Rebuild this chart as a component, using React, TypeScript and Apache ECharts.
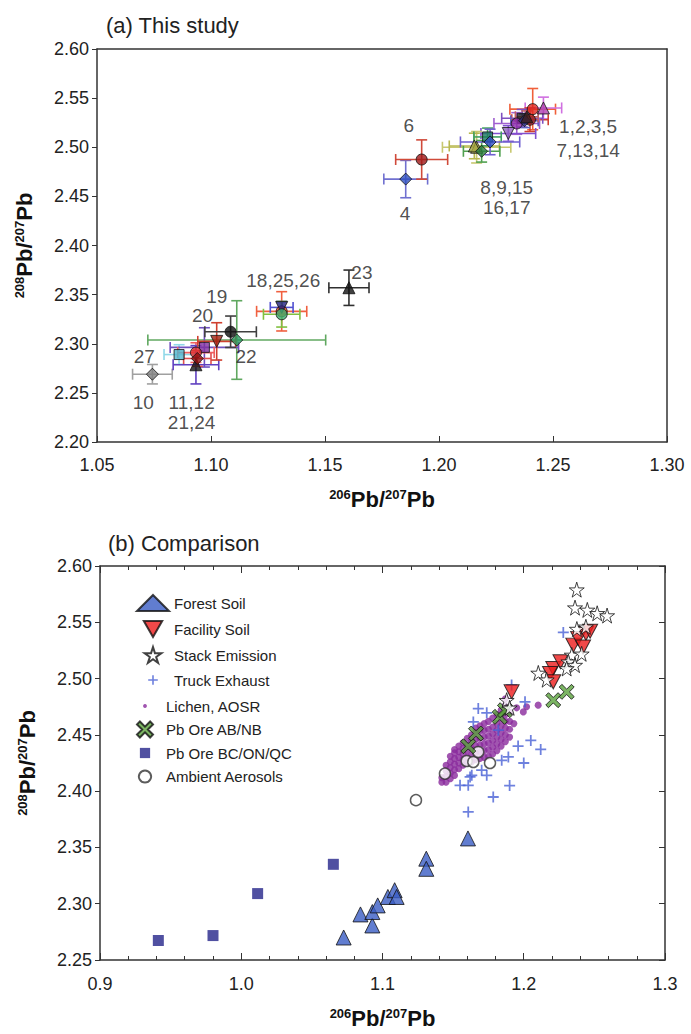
import React, { useEffect, useRef } from "react";
import * as echarts from "echarts";

const FONT = '"Liberation Sans", Arial, Helvetica, sans-serif';

// ---------- Panel (a): this study ----------
const aX = [1.2411, 1.2458, 1.2399, 1.2365, 1.2341, 1.2375, 1.2385, 1.2304, 1.2165, 1.2155, 1.2187, 1.2213, 1.2224, 1.1854, 1.1924, 1.1113, 1.0743, 1.086, 1.0971, 1.0934, 1.0934, 1.094, 1.1025, 1.1086, 1.131, 1.131, 1.131, 1.1605];
const aY = [2.5388, 2.540, 2.528, 2.5295, 2.5242, 2.527, 2.531, 2.514, 2.500, 2.5013, 2.4959, 2.5105, 2.5054, 2.4676, 2.4875, 2.3038, 2.269, 2.289, 2.2963, 2.291, 2.2786, 2.285, 2.3024, 2.3122, 2.333, 2.337, 2.330, 2.357];
const aXErr = [0.010, 0.008, 0.008, 0.009, 0.010, 0.006, 0.005, 0.012, 0.015, 0.011, 0.008, 0.006, 0.013, 0.0096, 0.0114, 0.039, 0.0087, 0.0066, 0.015, 0.008, 0.010, 0.006, 0.0083, 0.0113, 0.011, 0.005, 0.008, 0.0088];
const aYErr = [0.021, 0.011, 0.012, 0.009, 0.011, 0.007, 0.006, 0.008, 0.016, 0.013, 0.011, 0.009, 0.013, 0.019, 0.020, 0.040, 0.0099, 0.010, 0.020, 0.010, 0.0195, 0.008, 0.019, 0.016, 0.020, 0.006, 0.013, 0.018];
const aSymbol = ["circle", "triangle", "circle", "rect", "circle", "diamond", "triangle", "down", "triangle", "triangle", "diamond", "rect", "diamond", "diamond", "circle", "diamond", "diamond", "rect", "rect", "circle", "triangle", "diamond", "down", "circle", "circle", "down", "circle", "triangle"];
const aFill = ["#e0261e", "#b040b0", "#a0201a", "#202020", "#8a2aa8", "#303080", "#402020", "#9060c0", "#c8c860", "#a0a040", "#2a8040", "#1a7a60", "#3050c0", "#3050c0", "#a01818", "#2a9a60", "#808080", "#50b8d0", "#8030a0", "#e03030", "#151515", "#901010", "#a02010", "#101010", "#e04020", "#202080", "#40b070", "#111111"];
const aErrColor = ["#f0603a", "#d070e0", "#d04030", "#8050c0", "#a060d0", "#6060c0", "#c06060", "#8050d0", "#c8c870", "#b8b850", "#50a050", "#40a060", "#7060d0", "#7070d0", "#d04a3a", "#60a860", "#a0a0a0", "#90d8e8", "#7050c0", "#f06060", "#6040c0", "#e05050", "#d04030", "#404040", "#f06040", "#5050d0", "#80c040", "#303030"];

const aLabelX = [1.1868, 1.1851, 1.2654, 1.2654, 1.2297, 1.2297, 1.1317, 1.1662, 1.1025, 1.0963, 1.1154, 1.0707, 1.0703, 1.0915, 1.0915];
const aLabelY = [2.5217, 2.4327, 2.5214, 2.497, 2.4589, 2.439, 2.3643, 2.3724, 2.348, 2.3286, 2.2867, 2.2867, 2.240, 2.240, 2.2197];
const aLabelText = ["6", "4", "1,2,3,5", "7,13,14", "8,9,15", "16,17", "18,25,26", "23", "19", "20", "22", "27", "10", "11,12", "21,24"];

// ---------- Panel (b): comparison ----------
const forestSoil = [[1.0725, 2.270], [1.0844, 2.2905], [1.0928, 2.2807], [1.0928, 2.2926], [1.0966, 2.2985], [1.1038, 2.306], [1.1086, 2.312], [1.110, 2.306], [1.131, 2.340], [1.131, 2.331], [1.1605, 2.358]];
const facilitySoil = [[1.1914, 2.4882], [1.2209, 2.509], [1.2186, 2.5046], [1.2209, 2.4971], [1.226, 2.515], [1.2351, 2.5297], [1.2385, 2.5357], [1.244, 2.540], [1.247, 2.542], [1.242, 2.528]];
const stackEmission = [[1.2375, 2.579], [1.2363, 2.563], [1.245, 2.561], [1.252, 2.558], [1.259, 2.556], [1.2376, 2.544], [1.244, 2.546], [1.234, 2.521], [1.2316, 2.515], [1.2363, 2.512], [1.2304, 2.509], [1.241, 2.522], [1.2103, 2.505], [1.2162, 2.499], [1.1879, 2.4808], [1.190, 2.474]];
const truckExhaust = [[1.228, 2.541], [1.1914, 2.4942], [1.2009, 2.4793], [1.1678, 2.4734], [1.1738, 2.4696], [1.1643, 2.4615], [1.182, 2.4541], [1.1844, 2.4274], [1.1891, 2.4304], [1.162, 2.4126], [1.1549, 2.4052], [1.1607, 2.4052], [1.1632, 2.4141], [1.1702, 2.4186], [1.1738, 2.4141], [1.1784, 2.3948], [1.1607, 2.3815], [1.205, 2.445], [1.212, 2.437], [1.200, 2.425], [1.196, 2.440], [1.190, 2.405]];
const lichenAOSR = [
  [1.142, 2.408], [1.142, 2.412],
  [1.145, 2.408], [1.145, 2.413], [1.145, 2.418], [1.145, 2.423],
  [1.148, 2.411], [1.148, 2.416], [1.148, 2.421], [1.148, 2.426], [1.148, 2.431],
  [1.151, 2.414], [1.151, 2.419], [1.151, 2.424], [1.151, 2.429], [1.151, 2.434], [1.151, 2.437],
  [1.154, 2.420], [1.154, 2.425], [1.154, 2.430], [1.154, 2.435], [1.154, 2.440],
  [1.157, 2.423], [1.157, 2.428], [1.157, 2.433], [1.157, 2.438], [1.157, 2.443],
  [1.160, 2.425], [1.160, 2.430], [1.160, 2.436], [1.160, 2.441], [1.160, 2.447],
  [1.163, 2.426], [1.163, 2.432], [1.163, 2.438], [1.163, 2.444], [1.163, 2.450],
  [1.166, 2.428], [1.166, 2.434], [1.166, 2.440], [1.166, 2.446], [1.166, 2.452], [1.166, 2.456],
  [1.169, 2.429], [1.169, 2.435], [1.169, 2.441], [1.169, 2.447], [1.169, 2.453], [1.169, 2.458],
  [1.172, 2.430], [1.172, 2.436], [1.172, 2.442], [1.172, 2.448], [1.172, 2.454], [1.172, 2.460],
  [1.175, 2.431], [1.175, 2.437], [1.175, 2.443], [1.175, 2.449], [1.175, 2.455], [1.175, 2.462],
  [1.178, 2.433], [1.178, 2.439], [1.178, 2.445], [1.178, 2.451], [1.178, 2.457], [1.178, 2.465],
  [1.181, 2.436], [1.181, 2.442], [1.181, 2.448], [1.181, 2.454], [1.181, 2.460], [1.181, 2.468],
  [1.184, 2.440], [1.184, 2.446], [1.184, 2.452], [1.184, 2.458], [1.184, 2.464], [1.184, 2.472],
  [1.187, 2.444], [1.187, 2.450], [1.187, 2.456], [1.187, 2.462], [1.187, 2.468], [1.187, 2.476], [1.187, 2.482],
  [1.190, 2.448], [1.190, 2.455], [1.190, 2.462], [1.190, 2.470],
  [1.193, 2.460], [1.195, 2.474], [1.1997, 2.4704], [1.202, 2.4749], [1.2102, 2.4764]];
const pbOreABNB = [[1.1607, 2.4399], [1.1662, 2.4512], [1.183, 2.466], [1.1867, 2.4719], [1.2209, 2.4808], [1.2304, 2.4882]];
const pbOreBCONQC = [[0.9413, 2.2673], [0.980, 2.2717], [1.0116, 2.309], [1.0652, 2.335]];
const ambientAerosols = [[1.1237, 2.392], [1.1442, 2.4156], [1.1596, 2.4268], [1.1643, 2.4259], [1.1678, 2.4348], [1.1761, 2.425]];

const SYM_DOWN = "path://M0,0 L100,0 L50,87 Z";
const SYM_STAR = "path://M50,0 L61,35 L98,35 L68,57 L79,91 L50,70 L21,91 L32,57 L2,35 L39,35 Z";
const SYM_PLUS = "path://M42,0 H58 V42 H100 V58 H58 V100 H42 V58 H0 V42 H42 Z";
const SYM_X = "path://M0,18 L18,0 L50,32 L82,0 L100,18 L68,50 L100,82 L82,100 L50,68 L18,100 L0,82 L32,50 Z";
const ICON_PLUS = "path://M0,0 M100,100 M45,20 H55 V45 H80 V55 H55 V80 H45 V55 H20 V45 H45 Z";
const ICON_DOT = "path://M0,0 M100,100 M50,38 A12,12 0 1 1 49.9,38 Z";
const ICON_SQ = "path://M0,0 M100,100 M18,18 H82 V82 H18 Z";
const ICON_CIRC = "path://M0,0 M100,100 M50,12 A38,38 0 1 1 49.9,12 Z";

function symFor(s: string) {
  return s === "down" ? SYM_DOWN : s;
}

export default function App() {
  const ref = useRef<HTMLDivElement>(null);
  useEffect(() => {
    document.body.style.margin = "0";
    const chart = echarts.init(ref.current!, null, { renderer: "svg" });

    const axisLbl = { fontSize: 18, color: "#222", fontFamily: FONT };
    const nameStyle = {
      rich: {
        s: { fontSize: 13, fontWeight: "bold", fontFamily: FONT, color: "#111", padding: [0, 0, 9, 0] },
        b: { fontSize: 22, fontWeight: "bold", fontFamily: FONT, color: "#111" },
      },
    };
    const axisName = "{s|206}{b|Pb/}{s|207}{b|Pb}";
    const yName = "{s|208}{b|Pb/}{s|207}{b|Pb}";
    const line = { lineStyle: { color: "#333", width: 1.5 } };

    const errData = aX.map((x, i) => [x, aY[i], aXErr[i], aYErr[i]]);
    const markerData = aX.map((x, i) => ({
      value: [x, aY[i]],
      symbol: symFor(aSymbol[i]),
      symbolSize: aSymbol[i] === "rect" ? 10 : aSymbol[i] === "circle" ? 11 : 12,
      itemStyle: { color: aFill[i], borderColor: "#111", borderWidth: 1 },
    }));
    const labelData = aLabelX.map((x, i) => [x, aLabelY[i], aLabelText[i]]);

    const edge = { borderColor: "#111", borderWidth: 1 };

    chart.setOption({
      animation: false,
      backgroundColor: "#fff",
      title: [
        { text: "(a) This study", left: 101, top: 9, textStyle: { fontSize: 22, fontWeight: "normal", color: "#222", fontFamily: FONT } },
        { text: "(b) Comparison", left: 103, top: 527, textStyle: { fontSize: 22, fontWeight: "normal", color: "#222", fontFamily: FONT } },
      ],
      legend: [
        {
          data: [
            { name: "Forest Soil" },
            { name: "Facility Soil", icon: SYM_DOWN },
            { name: "Stack Emission" },
            { name: "Truck Exhaust", icon: ICON_PLUS },
          ],
          orient: "vertical", left: 131, top: 589, itemWidth: 32, itemHeight: 16, itemGap: 8,
          selectedMode: false, textStyle: { fontSize: 15, color: "#222", fontFamily: FONT },
        },
        {
          data: [
            { name: "Lichen, AOSR", icon: ICON_DOT },
            { name: "Pb Ore AB/NB" },
            { name: "Pb Ore BC/ON/QC", icon: ICON_SQ },
            { name: "Ambient Aerosols", icon: ICON_CIRC },
          ],
          orient: "vertical", left: 131, top: 693, itemWidth: 32, itemHeight: 16, itemGap: 6.5,
          selectedMode: false, textStyle: { fontSize: 15, color: "#222", fontFamily: FONT },
        },
      ],
      grid: [
        { left: 97, right: 24, top: 49, height: 393 },
        { left: 100, right: 26, top: 566, height: 394 },
      ],
      xAxis: [
        {
          gridIndex: 0, type: "value", min: 1.05, max: 1.3, interval: 0.05,
          axisLine: line, axisTick: { inside: true, length: 6, lineStyle: { color: "#333" } },
          axisLabel: { ...axisLbl, margin: 14, formatter: (v: number) => v.toFixed(2) },
          splitLine: { show: false },
          name: axisName, nameLocation: "middle", nameGap: 46, nameTextStyle: nameStyle,
        },
        { gridIndex: 0, type: "value", position: "top", min: 1.05, max: 1.3, axisLine: line, axisTick: { show: false }, axisLabel: { show: false }, splitLine: { show: false } },
        {
          gridIndex: 1, type: "value", min: 0.9, max: 1.3, interval: 0.1,
          axisLine: line, axisTick: { inside: true, length: 7, lineStyle: { color: "#333" } },
          minorTick: { show: true, splitNumber: 5, length: 4, lineStyle: { color: "#333" } },
          axisLabel: { ...axisLbl, margin: 15, formatter: (v: number) => v.toFixed(1) },
          splitLine: { show: false },
          name: axisName, nameLocation: "middle", nameGap: 47, nameTextStyle: nameStyle,
        },
        {
          gridIndex: 1, type: "value", position: "top", min: 0.9, max: 1.3, interval: 0.1,
          axisLine: line, axisTick: { inside: true, length: 7, lineStyle: { color: "#333" } },
          minorTick: { show: true, splitNumber: 5, length: 4, lineStyle: { color: "#333" } },
          axisLabel: { show: false }, splitLine: { show: false },
        },
      ],
      yAxis: [
        {
          gridIndex: 0, type: "value", min: 2.2, max: 2.6, interval: 0.05,
          axisLine: line, axisTick: { inside: false, length: 5, lineStyle: { color: "#333" } },
          axisLabel: { ...axisLbl, margin: 8, formatter: (v: number) => v.toFixed(2) },
          splitLine: { show: false },
          name: yName, nameLocation: "middle", nameGap: 62, nameTextStyle: nameStyle,
        },
        { gridIndex: 0, type: "value", position: "right", min: 2.2, max: 2.6, axisLine: line, axisTick: { show: false }, axisLabel: { show: false }, splitLine: { show: false } },
        {
          gridIndex: 1, type: "value", min: 2.25, max: 2.6, interval: 0.05,
          axisLine: line, axisTick: { inside: false, length: 5, lineStyle: { color: "#333" } },
          axisLabel: { ...axisLbl, margin: 8, formatter: (v: number) => v.toFixed(2) },
          splitLine: { show: false },
          name: yName, nameLocation: "middle", nameGap: 62, nameTextStyle: nameStyle,
        },
        {
          gridIndex: 1, type: "value", position: "right", min: 2.25, max: 2.6, interval: 0.05,
          axisLine: line, axisTick: { inside: true, length: 6, lineStyle: { color: "#333" } },
          axisLabel: { show: false }, splitLine: { show: false },
        },
      ],
      series: [
        {
          type: "custom", name: "errors", xAxisIndex: 0, yAxisIndex: 0, clip: false,
          encode: { x: 0, y: 1 },
          data: errData,
          renderItem: (params: any, api: any) => {
            const x = api.value(0), y = api.value(1), ex = api.value(2), ey = api.value(3);
            const color = aErrColor[params.dataIndex];
            const l = api.coord([x - ex, y]);
            const r = api.coord([x + ex, y]);
            const t = api.coord([x, y + ey]);
            const b = api.coord([x, y - ey]);
            const c = 5.5;
            const style = { stroke: color, lineWidth: 1.6 };
            const ln = (x1: number, y1: number, x2: number, y2: number) => ({ type: "line", shape: { x1, y1, x2, y2 }, style });
            return {
              type: "group",
              children: [
                ln(l[0], l[1], r[0], r[1]),
                ln(t[0], t[1], b[0], b[1]),
                ln(l[0], l[1] - c, l[0], l[1] + c),
                ln(r[0], r[1] - c, r[0], r[1] + c),
                ln(t[0] - c, t[1], t[0] + c, t[1]),
                ln(b[0] - c, b[1], b[0] + c, b[1]),
              ],
            };
          },
        },
        { type: "scatter", name: "samples", xAxisIndex: 0, yAxisIndex: 0, data: markerData },
        {
          type: "scatter", name: "sampleLabels", xAxisIndex: 0, yAxisIndex: 0, symbolSize: 0, silent: true,
          data: labelData,
          label: { show: true, position: "inside", formatter: (p: any) => p.value[2], fontSize: 19, color: "#222", fontFamily: FONT },
        },
        { type: "scatter", name: "Lichen, AOSR", xAxisIndex: 2, yAxisIndex: 2, data: lichenAOSR, symbol: "circle", symbolSize: 7, itemStyle: { color: "#8a2a9c" } },
        { type: "scatter", name: "Truck Exhaust", xAxisIndex: 2, yAxisIndex: 2, data: truckExhaust, symbol: SYM_PLUS, symbolSize: 11, itemStyle: { color: "#4a62d6" } },
        { type: "scatter", name: "Ambient Aerosols", xAxisIndex: 2, yAxisIndex: 2, data: ambientAerosols, symbol: "circle", symbolSize: 11, itemStyle: { color: "#ffffff", borderColor: "#333", borderWidth: 1.5 } },
        { type: "scatter", name: "Pb Ore AB/NB", xAxisIndex: 2, yAxisIndex: 2, data: pbOreABNB, symbol: SYM_X, symbolSize: 15, itemStyle: { color: "#5aa13c", ...edge } },
        { type: "scatter", name: "Pb Ore BC/ON/QC", xAxisIndex: 2, yAxisIndex: 2, data: pbOreBCONQC, symbol: "rect", symbolSize: 11, itemStyle: { color: "#24248a" } },
        { type: "scatter", name: "Forest Soil", xAxisIndex: 2, yAxisIndex: 2, data: forestSoil, symbol: "triangle", symbolSize: 15, itemStyle: { color: "#3a5cc4", ...edge } },
        { type: "scatter", name: "Facility Soil", xAxisIndex: 2, yAxisIndex: 2, data: facilitySoil, symbol: SYM_DOWN, symbolSize: [15, 14], itemStyle: { color: "#ee1c1c", ...edge } },
        { type: "scatter", name: "Stack Emission", xAxisIndex: 2, yAxisIndex: 2, data: stackEmission, symbol: SYM_STAR, symbolSize: 15, itemStyle: { color: "#ffffff", ...edge } },
      ],
    });
    return () => chart.dispose();
  }, []);
  return <div ref={ref} style={{ width: 691, height: 1034 }} />;
}
